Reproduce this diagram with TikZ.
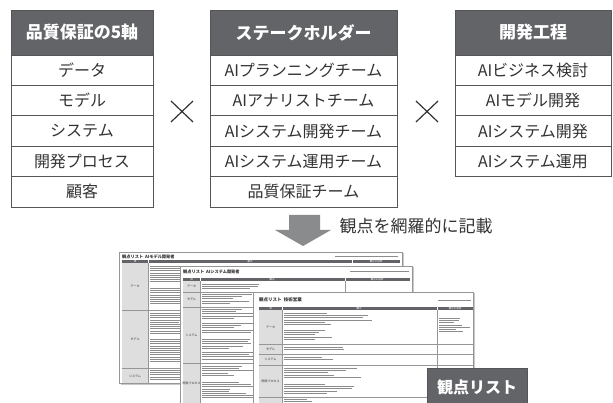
\documentclass[tikz,border=0pt]{standalone}
\usepackage{fontspec}
\setmainfont{Noto Sans CJK JP}
\definecolor{hdrc}{RGB}{99,100,104}
\definecolor{bordc}{RGB}{85,85,85}
\definecolor{txtc}{RGB}{51,51,51}
\definecolor{arrc}{RGB}{138,139,141}
\definecolor{docline}{RGB}{140,140,140}
\definecolor{docgrid}{RGB}{150,150,150}
\definecolor{colfill}{RGB}{222,222,222}
\definecolor{shadowc}{RGB}{200,200,200}
\newcommand{\txtlines}[4]{%
  \pgfmathtruncatemacro{\nlines}{((#3)-(#2))/2.2}%
  \foreach \k in {1,...,\nlines}{%
    \pgfmathsetmacro{\lenx}{(#4)*(0.45+0.55*rnd)}%
    \fill[docline] ({#1},{#2+(\k-1)*2.2}) rectangle ++(\lenx,1);
  }}
\begin{document}
\begin{tikzpicture}[x=1pt,y=-1pt,
  hdr/.style={draw=bordc, fill=hdrc, text=white, font=\fontsize{17}{17}\bfseries, minimum height=45, inner sep=0, line width=0.8},
  cell/.style={draw=bordc, fill=white, text=txtc, font=\fontsize{16}{16}\selectfont, minimum height=30.4, inner sep=0, line width=0.8},
  docbox/.style={draw=docgrid, fill=white, line width=0.5},
  grid/.style={draw=docgrid, line width=0.4},
  dtitle/.style={font=\fontsize{4.2}{4.2}\bfseries, text=txtc, inner sep=0, anchor=west},
  dlab/.style={font=\fontsize{3}{3}\selectfont, text=txtc, inner sep=0},
  hlab/.style={font=\fontsize{2.5}{2.5}\selectfont, text=white, inner sep=0},
  crossl/.style={draw=txtc, line width=1.2}]
\useasboundingbox (0,0) rectangle (613,403);
\clip (0,0) rectangle (613,403);
\pgfmathsetseed{7}
% ---- table 1
\node[hdr, minimum width=142] (a0) at (82,32.5) {品質保証の5軸};
\node[cell, minimum width=142] (a1) at (82,70.2) {データ};
\node[cell, minimum width=142] (a2) at (82,100.6) {モデル};
\node[cell, minimum width=142] (a3) at (82,131) {システム};
\node[cell, minimum width=142] (a4) at (82,161.4) {開発プロセス};
\node[cell, minimum width=142] (a5) at (82,191.8) {顧客};
% ---- table 2
\node[hdr, minimum width=187] (b0) at (303.5,32.5) {ステークホルダー};
\node[cell, minimum width=187] (b1) at (303.5,70.2) {AIプランニングチーム};
\node[cell, minimum width=187] (b2) at (303.5,100.6) {AIアナリストチーム};
\node[cell, minimum width=187] (b3) at (303.5,131) {AIシステム開発チーム};
\node[cell, minimum width=187] (b4) at (303.5,161.4) {AIシステム運用チーム};
\node[cell, minimum width=187] (b5) at (303.5,191.8) {品質保証チーム};
% ---- table 3
\node[hdr, minimum width=156] (c0) at (533,32.5) {開発工程};
\node[cell, minimum width=156] (c1) at (533,70.2) {AIビジネス検討};
\node[cell, minimum width=156] (c2) at (533,100.6) {AIモデル開発};
\node[cell, minimum width=156] (c3) at (533,131) {AIシステム開発};
\node[cell, minimum width=156] (c4) at (533,161.4) {AIシステム運用};
% ---- crosses
\draw[crossl] (171,101) -- (193,122) (171,122) -- (193,101);
\draw[crossl] (416,101) -- (438,122) (416,122) -- (438,101);
% ---- arrow
\fill[arrc] (289,215) -- (320,215) -- (320,230) -- (331,230) -- (303,246) -- (275,230) -- (289,230) -- cycle;
\node[text=txtc, font=\fontsize{17}{17}\selectfont, inner sep=0] (note) at (416,226) {観点を網羅的に記載};
% ---- document 1
\fill[shadowc] (120.5,253.5) rectangle (403.5,384.5);
\draw[docbox] (119,252) rectangle (402,383);
\node[dtitle] (d1t) at (122,257) {観点リスト\ \ AIモデル開発者};
\fill[docline] (335,256.5) rectangle (398,257.3);
\fill[hdrc] (122,260) rectangle (400,263.5);
\fill[colfill] (122,263.5) rectangle (148,383);
\draw[grid] (148,263.5) -- (148,383) (122,310) -- (400,310) (122,368) -- (400,368);
\draw[white, line width=0.4] (148,260) -- (148,263.5) (352,260) -- (352,263.5);
\node[hlab] (d1h1) at (135,261.8) {項};
\node[hlab] (d1h2) at (250,261.8) {観点};
\node[hlab] (d1h3) at (376,261.8) {観点の説明};
\node[dlab] (d1l1) at (135,286) {データ};
\node[dlab] (d1l2) at (135,339) {モデル};
\node[dlab] (d1l3) at (135,376) {システム};
\txtlines{150}{266}{284}{60}
\txtlines{150}{288}{306}{60}
\txtlines{150}{313}{335}{60}
\txtlines{150}{339}{365}{60}
\txtlines{150}{370}{382}{60}
% ---- document 2
\fill[shadowc] (181.5,267.5) rectangle (413.5,410);
\draw[docbox] (180,266) rectangle (412,410);
\node[dtitle] (d2t) at (183,271.5) {観点リスト\ \ AIシステム開発者};
\fill[docline] (350,271) rectangle (409,271.8);
\fill[hdrc] (183,278) rectangle (410,281.5);
\fill[colfill] (183,281.5) rectangle (200,410);
\draw[grid] (200,281.5) -- (200,410) (345,281.5) -- (345,410)
  (183,292) -- (410,292) (183,307) -- (410,307) (183,363) -- (410,363);
\draw[white, line width=0.4] (200,278) -- (200,281.5) (345,278) -- (345,281.5);
\node[hlab] (d2h1) at (191.5,279.8) {項};
\node[hlab] (d2h2) at (272,279.8) {観点};
\node[hlab] (d2h3) at (377,279.8) {観点の説明};
\node[dlab] (d2l1) at (191.5,286.5) {データ};
\node[dlab] (d2l2) at (191.5,299.5) {モデル};
\node[dlab] (d2l3) at (191.5,335) {システム};
\node[dlab] (d2l4) at (191.5,383) {開発プロセス};
\txtlines{202}{284}{291}{58}
\txtlines{202}{294}{305}{58}
\txtlines{202}{309}{320}{58}
\txtlines{202}{323}{336}{58}
\txtlines{202}{339}{350}{58}
\txtlines{202}{352}{362}{58}
\txtlines{202}{366}{378}{58}
\txtlines{202}{382}{400}{58}
% ---- document 3
\fill[shadowc] (254.5,293.5) rectangle (474.5,410);
\draw[docbox] (253,292) rectangle (473,410);
\node[dtitle, font=\fontsize{4.5}{4.5}\bfseries] (d3t) at (259,300) {観点リスト\ \ 技術営業};
\fill[docline] (438,299.6) rectangle (471,300.4);
\fill[hdrc] (259,307) rectangle (473,310.5);
\fill[colfill] (259,310.5) rectangle (282,410);
\draw[grid] (282,310.5) -- (282,410) (437,310.5) -- (437,410)
  (259,344) -- (473,344) (259,354) -- (473,354) (259,365) -- (473,365) (259,397) -- (473,397);
\draw[white, line width=0.4] (282,307) -- (282,310.5) (437,307) -- (437,310.5);
\node[hlab] (d3h1) at (270.5,308.8) {項};
\node[hlab] (d3h2) at (359,308.8) {観点};
\node[hlab] (d3h3) at (455,308.8) {観点の説明};
\node[dlab] (d3l1) at (270.5,327) {データ};
\node[dlab] (d3l2) at (270.5,349) {モデル};
\node[dlab] (d3l3) at (270.5,359.5) {システム};
\node[dlab] (d3l4) at (270.5,381) {開発プロセス};
\txtlines{284}{313}{327}{88}
\txtlines{284}{330}{341}{60}
\txtlines{284}{347}{352}{70}
\txtlines{284}{357}{363}{70}
\txtlines{284}{368}{380}{85}
\txtlines{284}{384}{395}{85}
\txtlines{284}{399}{404}{50}
\txtlines{439}{318}{334}{32}
% ---- label
\node[draw=bordc, fill=hdrc, text=white, font=\fontsize{16}{16}\bfseries, minimum width=100, minimum height=38, inner sep=0, line width=0.8] (lbl) at (477,387) {観点リスト};
\end{tikzpicture}
\end{document}
